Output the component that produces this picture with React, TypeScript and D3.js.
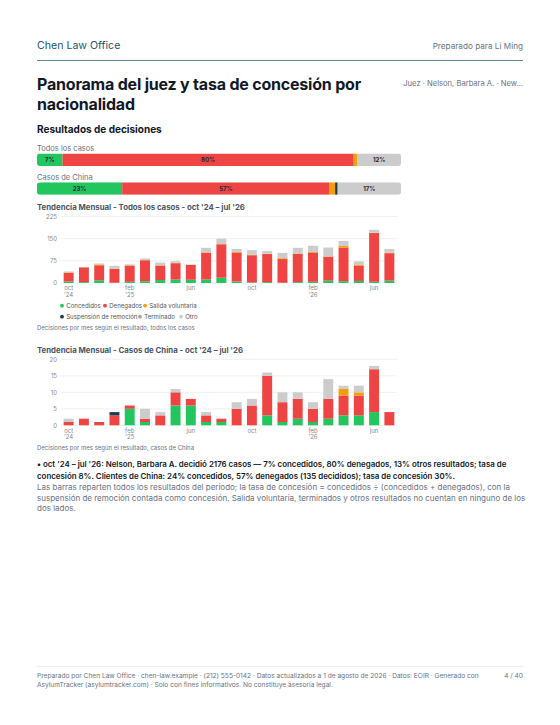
import React from "react";
import * as d3 from "d3";

const months = [
  "oct '24","nov '24","dic '24","ene '25","feb '25","mar '25","abr '25","may '25","jun '25","jul '25","ago '25","sep '25",
  "oct '25","nov '25","dic '25","ene '26","feb '26","mar '26","abr '26","may '26","jun '26","jul '26",
];
const tickIdx = [0, 4, 8, 12, 16, 20];
const tickLines = [["oct", "'24"], ["feb", "'25"], ["jun"], ["oct"], ["feb", "'26"], ["jun"]];

const keys = ["granted", "denied", "voluntary", "suspension", "terminated", "other"];
const keyLabels = ["Concedidos", "Denegados", "Salida voluntaria", "Suspensión de remoción", "Terminado", "Otro"];
const keyColors = ["#22c55e", "#ef4444", "#f59e0b", "#1f3b4d", "#a3a3a3", "#cccccc"];

// All cases, monthly
const allGranted = [5, 3, 9, 1, 4, 6, 10, 12, 11, 12, 18, 5, 2, 3, 1, 3, 4, 8, 6, 7, 4, 8];
const allDenied = [29, 50, 51, 47, 55, 71, 49, 55, 50, 90, 113, 98, 92, 95, 80, 96, 99, 81, 114, 51, 165, 93];
const allVoluntary = [2, 0, 3, 1, 1, 1, 1, 1, 0, 2, 1, 2, 1, 1, 3, 1, 2, 1, 5, 3, 1, 2];
const allSuspension = [0, 0, 0, 0, 0, 0, 0, 0, 0, 0, 0, 0, 0, 0, 0, 0, 0, 0, 0, 0, 0, 0];
const allTerminated = [0, 0, 0, 0, 0, 0, 0, 0, 0, 0, 0, 0, 0, 0, 0, 0, 0, 0, 2, 0, 0, 0];
const allOther = [3, 1, 3, 9, 3, 5, 9, 6, 2, 15, 18, 10, 16, 9, 18, 19, 21, 30, 15, 12, 10, 12];

// China cases, monthly
const cnGranted = [0, 0, 0, 0, 5, 1, 0, 6, 6, 1, 1, 0, 0, 3, 1, 2, 1, 2, 3, 3, 4, 0];
const cnDenied = [1, 2, 1, 3, 1, 1, 3, 4, 2, 2, 1, 5, 6, 12, 6, 6, 4, 6, 6, 6, 13, 4];
const cnVoluntary = [0, 0, 0, 0, 0, 0, 0, 0, 0, 0, 0, 0, 0, 0, 0, 0, 0, 0, 2, 1, 0, 0];
const cnSuspension = [0, 0, 0, 1, 0, 0, 0, 0, 0, 0, 0, 0, 0, 0, 0, 0, 0, 0, 0, 0, 0, 0];
const cnTerminated = [0, 0, 0, 0, 0, 0, 0, 0, 0, 0, 0, 0, 0, 0, 0, 0, 0, 0, 0, 0, 0, 0];
const cnOther = [1, 0, 0, 0, 0, 3, 1, 1, 0, 1, 0, 2, 2, 1, 3, 2, 2, 6, 1, 2, 1, 0];

// Decision outcome shares (%)
const allShares = [7, 80, 1, 0, 0, 12];
const cnShares = [23.4, 57, 1.5, 0.7, 0, 17.4];
const allShareLabels = ["7%", "80%", "", "", "", "12%"];
const cnShareLabels = ["23%", "57%", "", "", "", "17%"];

const allTicks = [0, 75, 150, 225];
const cnTicks = [0, 5, 10, 15, 20];

const FONT = "Inter, 'Noto Sans', sans-serif";

function rows(series: number[][]) {
  return months.map((m, i) => {
    const r: any = { month: m };
    keys.forEach((k, j) => (r[k] = series[j][i]));
    return r;
  });
}

function ShareBar({ y, shares, labels }: { y: number; shares: number[]; labels: string[] }) {
  const x = d3.scaleLinear().domain([0, d3.sum(shares)]).range([37, 401]);
  let acc = 0;
  const segs = shares.map((v, i) => {
    const s = { x0: x(acc), x1: x(acc + v), i };
    acc += v;
    return s;
  });
  const clipId = "clip" + Math.round(y);
  return (
    <g>
      <defs>
        <clipPath id={clipId}>
          <rect x={37} y={y} width={364} height={12.5} rx={3} />
        </clipPath>
      </defs>
      <g clipPath={`url(#${clipId})`}>
        {segs.map((s) => (
          <rect key={s.i} x={s.x0} y={y} width={Math.max(0, s.x1 - s.x0)} height={12.5} fill={keyColors[s.i]} />
        ))}
      </g>
      {segs.map((s) =>
        labels[s.i] ? (
          <text key={"t" + s.i} x={(s.x0 + s.x1) / 2} y={y + 8.6} textAnchor="middle" fontSize={6} fontWeight={700} fill="#1f2937">
            {labels[s.i]}
          </text>
        ) : null
      )}
    </g>
  );
}

function StackChart({ data, top, bottom, max, ticks }: { data: any[]; top: number; bottom: number; max: number; ticks: number[] }) {
  const x = d3.scaleBand<string>().domain(months).range([61, 397]).paddingInner(0.35).paddingOuter(0.175);
  const y = d3.scaleLinear().domain([0, max]).range([bottom, top]);
  const stacked = d3.stack<any>().keys(keys)(data);
  return (
    <g>
      {ticks.map((t) => (
        <g key={t}>
          <line x1={61} x2={397} y1={y(t)} y2={y(t)} stroke="#ececec" strokeWidth={0.8} />
          <text x={57} y={y(t) + 2.2} textAnchor="end" fontSize={6} fill="#888">
            {t}
          </text>
        </g>
      ))}
      {stacked.map((layer, li) => (
        <g key={layer.key} fill={keyColors[li]}>
          {layer.map((d, i) =>
            d[1] - d[0] > 0 ? (
              <rect key={i} x={x(months[i])} y={y(d[1])} width={x.bandwidth()} height={y(d[0]) - y(d[1])} />
            ) : null
          )}
        </g>
      ))}
      {tickIdx.map((ti, k) => (
        <text key={ti} x={(x(months[ti]) as number) + x.bandwidth() / 2} y={bottom + 7.3} textAnchor="middle" fontSize={6} fill="#888">
          {tickLines[k].map((l, j) => (
            <tspan key={j} x={(x(months[ti]) as number) + x.bandwidth() / 2} dy={j === 0 ? 0 : 6.5}>
              {l}
            </tspan>
          ))}
        </text>
      ))}
    </g>
  );
}

function Legend({ y }: { y: number }) {
  const row1 = [
    { i: 0, x: 62 },
    { i: 1, x: 105 },
    { i: 2, x: 145 },
  ];
  const row2 = [
    { i: 3, x: 62 },
    { i: 4, x: 140 },
    { i: 5, x: 181 },
  ];
  return (
    <g fontSize={6.1} fill="#555">
      {[row1, row2].map((row, r) =>
        row.map((it) => (
          <g key={it.i}>
            <circle cx={it.x} cy={y + r * 11} r={1.9} fill={keyColors[it.i]} />
            <text x={it.x + 4.2} y={y + r * 11 + 2.2}>
              {keyLabels[it.i]}
            </text>
          </g>
        ))
      )}
    </g>
  );
}

export default function App() {
  const allData = rows([allGranted, allDenied, allVoluntary, allSuspension, allTerminated, allOther]);
  const cnData = rows([cnGranted, cnDenied, cnVoluntary, cnSuspension, cnTerminated, cnOther]);
  return (
    <svg width={560} height={725} style={{ position: "absolute", left: 0, top: 0, background: "#fff" }} fontFamily={FONT}>
      <rect width={560} height={725} fill="#fff" />
      <text x={37} y={49} fontSize={10.6} fill="#24566a">Chen Law Office</text>
      <text x={523} y={48.5} fontSize={8.2} fill="#6b7280" textAnchor="end">Preparado para Li Ming</text>
      <line x1={37} x2={523} y1={60.5} y2={60.5} stroke="#5f8796" strokeWidth={1} />

      <text x={37} y={89.5} fontSize={16} fontWeight={700} fill="#111827" letterSpacing={-0.2}>Panorama del juez y tasa de concesión por</text>
      <text x={37} y={109.5} fontSize={16} fontWeight={700} fill="#111827" letterSpacing={-0.2}>nacionalidad</text>
      <text x={523} y={86} fontSize={7.6} fill="#6b7280" textAnchor="end">Juez · Nelson, Barbara A. · New...</text>

      <text x={37} y={133} fontSize={10} fontWeight={700} fill="#111827">Resultados de decisiones</text>
      <text x={37} y={151} fontSize={7.5} fill="#6b7280">Todos los casos</text>
      <ShareBar y={153.5} shares={allShares} labels={allShareLabels} />
      <text x={37} y={180} fontSize={7.5} fill="#6b7280">Casos de China</text>
      <ShareBar y={182.3} shares={cnShares} labels={cnShareLabels} />

      <text x={37} y={210} fontSize={7.8} fontWeight={700} fill="#4b5563">Tendencia Mensual - Todos los casos - oct '24 – jul '26</text>
      <StackChart data={allData} top={216.5} bottom={283} max={225} ticks={allTicks} />
      <Legend y={305.7} />
      <text x={37} y={330} fontSize={6} fill="#6b7280">Decisiones por mes según el resultado, todos los casos</text>

      <text x={37} y={353} fontSize={7.8} fontWeight={700} fill="#4b5563">Tendencia Mensual - Casos de China - oct '24 – jul '26</text>
      <StackChart data={cnData} top={359.3} bottom={425.3} max={20} ticks={cnTicks} />
      <text x={37} y={450} fontSize={6} fill="#6b7280">Decisiones por mes según el resultado, casos de China</text>

      <g fontSize={7.9} fontWeight={600} fill="#111827">
        <text x={37} y={467}>• oct '24 – jul '26: Nelson, Barbara A. decidió 2176 casos — 7% concedidos, 80% denegados, 13% otros resultados; tasa de</text>
        <text x={37} y={478.5}>concesión 8%. Clientes de China: 24% concedidos, 57% denegados (135 decididos); tasa de concesión 30%.</text>
      </g>
      <g fontSize={8} fill="#6b7280">
        <text x={37} y={490}>Las barras reparten todos los resultados del periodo; la tasa de concesión = concedidos ÷ (concedidos + denegados), con la</text>
        <text x={37} y={500.5}>suspensión de remoción contada como concesión. Salida voluntaria, terminados y otros resultados no cuentan en ninguno de los</text>
        <text x={37} y={511}>dos lados.</text>
      </g>

      <line x1={37} x2={523} y1={666.5} y2={666.5} stroke="#e5e7eb" strokeWidth={0.8} />
      <g fontSize={6.6} fill="#6b7280">
        <text x={37} y={677.5}>Preparado por Chen Law Office · chen-law.example · (212) 555-0142 · Datos actualizados a 1 de agosto de 2026 · Datos: EOIR · Generado con</text>
        <text x={37} y={686.5}>AsylumTracker (asylumtracker.com) · Solo con fines informativos. No constituye asesoría legal.</text>
        <text x={523} y={677.5} textAnchor="end">4 / 40</text>
      </g>
    </svg>
  );
}
